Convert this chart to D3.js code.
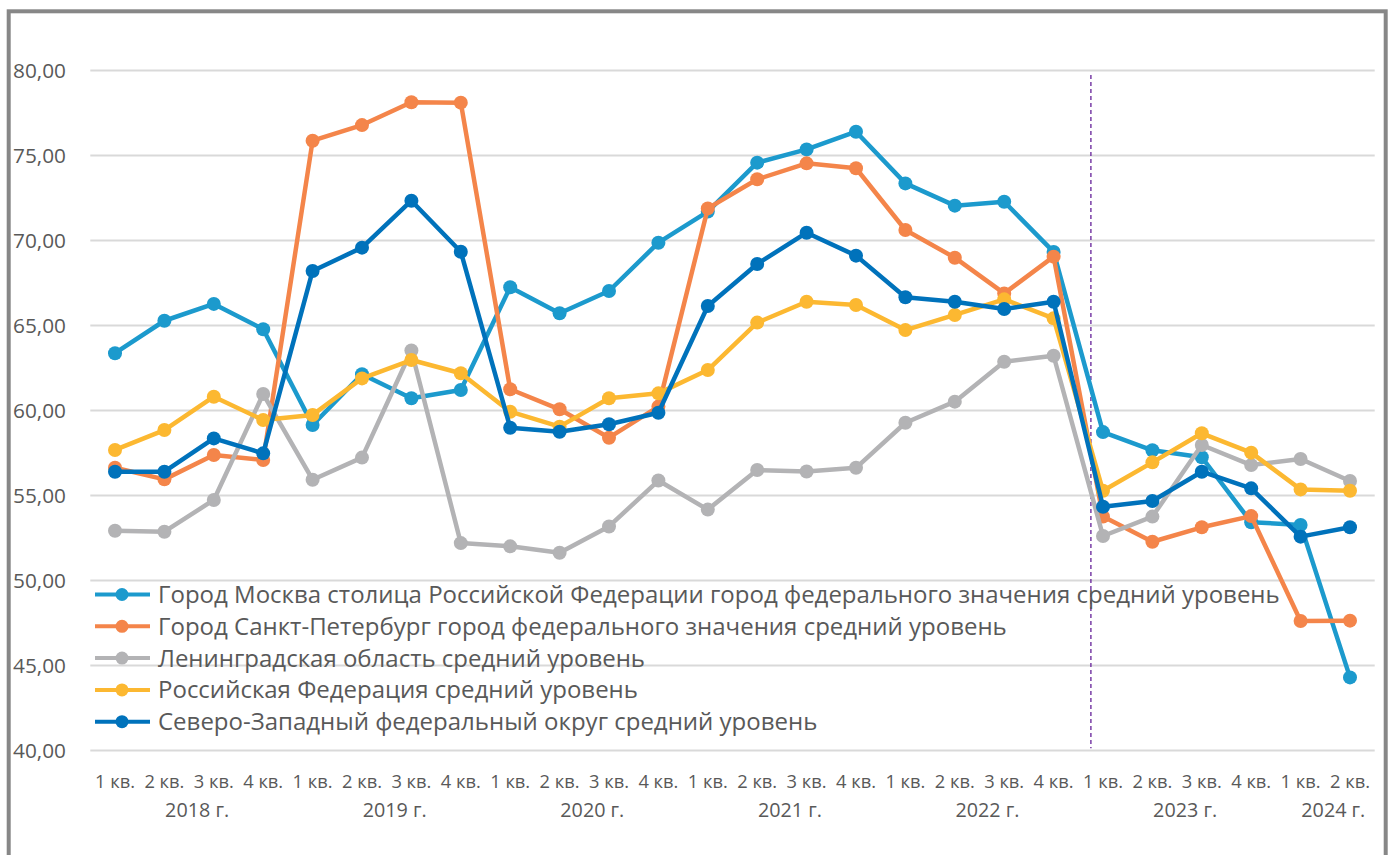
<!DOCTYPE html>
<html>
<head>
<meta charset="utf-8">
<script src="https://cdn.jsdelivr.net/npm/d3@7"></script>
<style>
  html, body { margin: 0; padding: 0; background: #fff; }
  svg { display: block; }
  text { font-family: "Open Sans", "Noto Sans", sans-serif; fill: #595959; }
</style>
</head>
<body>
<svg id="chart" width="1392" height="855"></svg>
<script>
// ---------- data ----------
const quarters = ["1 кв.", "2 кв.", "3 кв.", "4 кв.", "1 кв.", "2 кв.", "3 кв.", "4 кв.", "1 кв.", "2 кв.", "3 кв.", "4 кв.",
  "1 кв.", "2 кв.", "3 кв.", "4 кв.", "1 кв.", "2 кв.", "3 кв.", "4 кв.", "1 кв.", "2 кв.", "3 кв.", "4 кв.", "1 кв.", "2 кв."];
const years = ["2018 г.", "2019 г.", "2020 г.", "2021 г.", "2022 г.", "2023 г.", "2024 г."];
const yearOfQuarter = [0,0,0,0,1,1,1,1,2,2,2,2,3,3,3,3,4,4,4,4,5,5,5,5,6,6];

const seriesNames = [
  "Город Москва столица Российской Федерации город федерального значения средний уровень",
  "Город Санкт-Петербург город федерального значения средний уровень",
  "Ленинградская область средний уровень",
  "Российская Федерация средний уровень",
  "Северо-Западный федеральный округ средний уровень"
];
const moscow = [63.34, 65.25, 66.24, 64.75, 59.12, 62.1, 60.69, 61.18, 67.22, 65.69, 67.0, 69.84, 71.67, 74.55, 75.33, 76.37, 73.33, 72.02, 72.25, 69.3, 58.7, 57.63, 57.22, 53.4, 53.24, 44.27];
const spb = [56.6, 55.92, 57.35, 57.06, 75.84, 76.76, 78.1, 78.08, 61.22, 60.04, 58.37, 60.2, 71.86, 73.57, 74.51, 74.22, 70.59, 68.96, 66.86, 69.02, 53.73, 52.25, 53.1, 53.76, 47.59, 47.61];
const lenobl = [52.9, 52.84, 54.71, 60.94, 55.9, 57.2, 63.5, 52.17, 51.98, 51.6, 53.15, 55.85, 54.14, 56.47, 56.38, 56.6, 59.25, 60.49, 62.84, 63.19, 52.59, 53.73, 57.94, 56.76, 57.12, 55.82];
const russia = [57.65, 58.82, 60.78, 59.41, 59.71, 61.86, 62.94, 62.16, 59.9, 59.02, 60.69, 60.98, 62.35, 65.14, 66.37, 66.18, 64.7, 65.59, 66.51, 65.39, 55.25, 56.92, 58.63, 57.49, 55.33, 55.25];
const nwfo = [56.37, 56.37, 58.33, 57.45, 68.18, 69.55, 72.31, 69.31, 58.96, 58.72, 59.16, 59.84, 66.12, 68.59, 70.43, 69.08, 66.63, 66.37, 65.94, 66.37, 54.31, 54.65, 56.37, 55.39, 52.55, 53.1];
const seriesValues = [moscow, spb, lenobl, russia, nwfo];
const colors = ["#1c9acd", "#f4854a", "#b3b3b5", "#fcb831", "#0072bb"];
const yTicks = [40, 45, 50, 55, 60, 65, 70, 75, 80];

// ---------- layout ----------
const svg = d3.select("#chart");
const plot = { left: 90.3, right: 1374.7, top: 70, bottom: 750 };

svg.append("rect")
  .attr("x", 8.7).attr("y", 11.3).attr("width", 1377).attr("height", 900)
  .attr("fill", "#fff").attr("stroke", "#878787").attr("stroke-width", 4);

const idx = d3.range(quarters.length);
const x = d3.scalePoint().domain(idx).range([plot.left, plot.right]).padding(0.5);
const y = d3.scaleLinear().domain([40, 80]).range([plot.bottom, plot.top]);
const step = x.step();

function fitFont(sel, base, target) {
  sel.style("font-size", base + "px");
  const w = sel.node().getComputedTextLength();
  return base * target / w;
}

// gridlines
const grid = svg.append("g")
  .attr("transform", `translate(${plot.left},0)`)
  .call(d3.axisLeft(y).tickValues(yTicks).tickSize(-(plot.right - plot.left)).tickFormat(""));
grid.select(".domain").remove();
grid.selectAll(".tick line").attr("stroke", "#d9d9d9").attr("stroke-width", 2);

// y labels
const fmt = v => v.toFixed(2).replace(".", ",");
const yLab = svg.append("g");
const probeY = yLab.append("text").text("80,00");
const yFs = fitFont(probeY, 20, 53);
probeY.remove();
yLab.selectAll("text").data(yTicks).join("text")
  .attr("x", 66).attr("y", d => y(d) + 8)
  .attr("text-anchor", "end")
  .style("font-size", yFs + "px")
  .text(fmt);

// dashed separator
svg.append("line")
  .attr("x1", x(19) + step * 0.755).attr("x2", x(19) + step * 0.755)
  .attr("y1", y(79.7)).attr("y2", y(40.1))
  .attr("stroke", "#7030a0").attr("stroke-width", 1.4)
  .attr("stroke-dasharray", "4,3");

// x labels
const xLab = svg.append("g");
xLab.selectAll("text.q").data(idx).join("text").attr("class", "q")
  .attr("x", d => x(d)).attr("y", 788)
  .attr("text-anchor", "middle")
  .style("font-size", "19px")
  .attr("textLength", 40).attr("lengthAdjust", "spacingAndGlyphs")
  .text(d => quarters[d]);

xLab.selectAll("text.yr").data(years).join("text").attr("class", "yr")
  .attr("x", (d, i) => {
    const qs = idx.filter(k => yearOfQuarter[k] === i);
    return (x(qs[0]) + x(qs[qs.length - 1])) / 2 + 8;
  })
  .attr("y", 817)
  .attr("text-anchor", "middle")
  .style("font-size", "19.5px")
  .attr("textLength", 64).attr("lengthAdjust", "spacingAndGlyphs")
  .text(d => d);

// series
const line = d3.line().x((d, i) => x(i)).y(d => y(d));
seriesValues.forEach((vals, s) => {
  const g = svg.append("g");
  g.append("path").datum(vals)
    .attr("d", line)
    .attr("fill", "none").attr("stroke", colors[s])
    .attr("stroke-width", 4.5).attr("stroke-linejoin", "round");
  g.selectAll("circle").data(vals).join("circle")
    .attr("cx", (d, i) => x(i)).attr("cy", d => y(d))
    .attr("r", 7).attr("fill", colors[s]);
});

// legend
const leg = svg.append("g");
const probeL = leg.append("text").text(seriesNames[0]);
const lFs = fitFont(probeL, 24, 1122);
probeL.remove();
seriesNames.forEach((name, s) => {
  const cy = 594.5 + s * 31.8;
  leg.append("line").attr("x1", 95).attr("x2", 150).attr("y1", cy).attr("y2", cy)
    .attr("stroke", colors[s]).attr("stroke-width", 4);
  leg.append("circle").attr("cx", 122).attr("cy", cy).attr("r", 6.5).attr("fill", colors[s]);
  leg.append("text").attr("x", 158).attr("y", cy + 8.5)
    .style("font-size", lFs + "px").text(name);
});
</script>
</body>
</html>
